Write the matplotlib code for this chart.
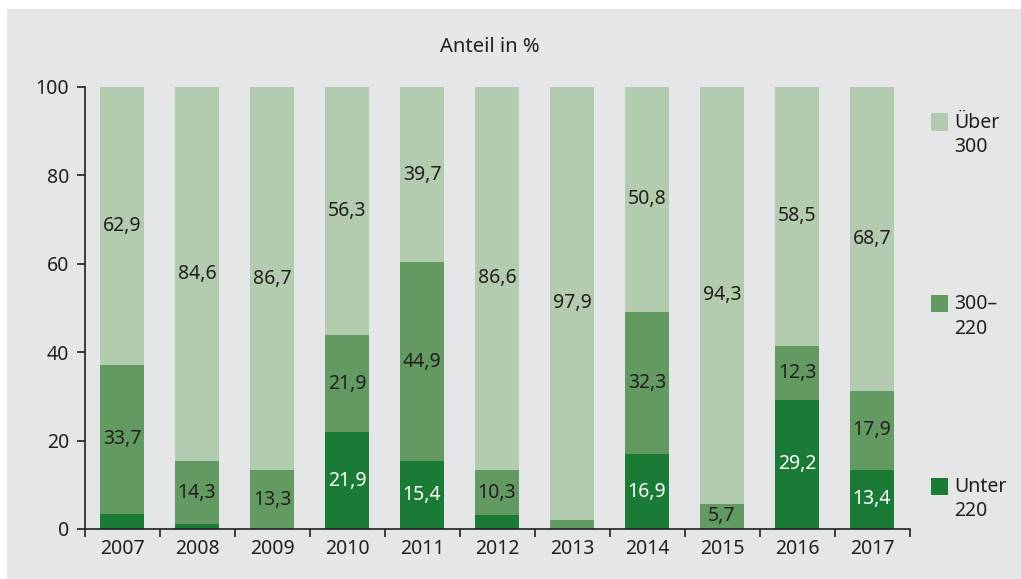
import matplotlib.pyplot as plt
from matplotlib.patches import Rectangle
import numpy as np

# Data: share in %
years = ['2007', '2008', '2009', '2010', '2011', '2012', '2013', '2014', '2015', '2016', '2017']
unter_220 = [3.4, 1.1, 0.0, 21.9, 15.4, 3.1, 0.0, 16.9, 0.0, 29.2, 13.4]
mid_300_220 = [33.7, 14.3, 13.3, 21.9, 44.9, 10.3, 2.1, 32.3, 5.7, 12.3, 17.9]
ueber_300 = [62.9, 84.6, 86.7, 56.3, 39.7, 86.6, 97.9, 50.8, 94.3, 58.5, 68.7]

legend_labels = ['Über\n300', '300–\n220', 'Unter\n220']

c_light = '#b3cbae'
c_mid = '#629a62'
c_dark = '#1a7b37'
bg = '#e5e6e8'
txt = '#231f20'

plt.rcParams['font.family'] = ['Noto Sans', 'DejaVu Sans']

fig = plt.figure(figsize=(10.21, 5.79), dpi=100, facecolor='white')
# gray panel
fig.patches.append(Rectangle((7 / 1021, 0), 1, 1 - 9 / 579, transform=fig.transFigure,
                             facecolor=bg, edgecolor='none', zorder=-10))

ax = fig.add_axes([84.5 / 1021, 50 / 579, 825 / 1021, 442 / 579])
ax.set_facecolor('none')

x = np.arange(len(years))
w = 0.59
low = np.array(unter_220)
mid = np.array(mid_300_220)
top = np.array(ueber_300)

ax.bar(x, low, w, color=c_dark, zorder=2)
ax.bar(x, mid, w, bottom=low, color=c_mid, zorder=2)
ax.bar(x, top, w, bottom=low + mid, color=c_light, zorder=2)

fs = 14
for i in range(len(years)):
    if low[i] >= 10:
        ax.text(x[i], low[i] / 2, f'{low[i]:.1f}'.replace('.', ','), ha='center', va='center',
                color='white', fontsize=fs, zorder=3)
    if mid[i] >= 5:
        ax.text(x[i], low[i] + mid[i] / 2, f'{mid[i]:.1f}'.replace('.', ','), ha='center',
                va='center', color=txt, fontsize=fs, zorder=3)
    ax.text(x[i], low[i] + mid[i] + top[i] / 2, f'{top[i]:.1f}'.replace('.', ','), ha='center',
            va='center', color=txt, fontsize=fs, zorder=3)

ax.set_xlim(-0.5, len(years) - 0.5)
ax.set_ylim(0, 100)
ax.set_yticks([0, 20, 40, 60, 80, 100])
ax.set_xticks(x)
ax.set_xticklabels(years)
ax.set_xticks(np.arange(-0.5, len(years)), minor=True)
ax.tick_params(axis='x', which='major', length=0, labelsize=fs, colors=txt, pad=7)
ax.tick_params(axis='x', which='minor', length=6, width=1.2, direction='out', color=txt)
ax.tick_params(axis='y', length=6, width=1.2, labelsize=fs, colors=txt, pad=5)

for s in ['top', 'right']:
    ax.spines[s].set_visible(False)
for s in ['left', 'bottom']:
    ax.spines[s].set_color(txt)
    ax.spines[s].set_linewidth(1.2)

fig.text(490 / 1021, 1 - 47 / 579, 'Anteil in %', ha='center', va='center', fontsize=14.5, color=txt)

# legend
leg_y = [122, 303, 486]
for lab, col, yc in zip(legend_labels, [c_light, c_mid, c_dark], leg_y):
    fig.patches.append(Rectangle((931 / 1021, 1 - (yc + 8.5) / 579), 17 / 1021, 17 / 579,
                                 transform=fig.transFigure, facecolor=col, edgecolor='none'))
    fig.text(954 / 1021, 1 - (yc - 9) / 579, lab, ha='left', va='top', fontsize=fs,
             color=txt, linespacing=1.3)

fig.savefig('out.png', dpi=100, facecolor='white')
